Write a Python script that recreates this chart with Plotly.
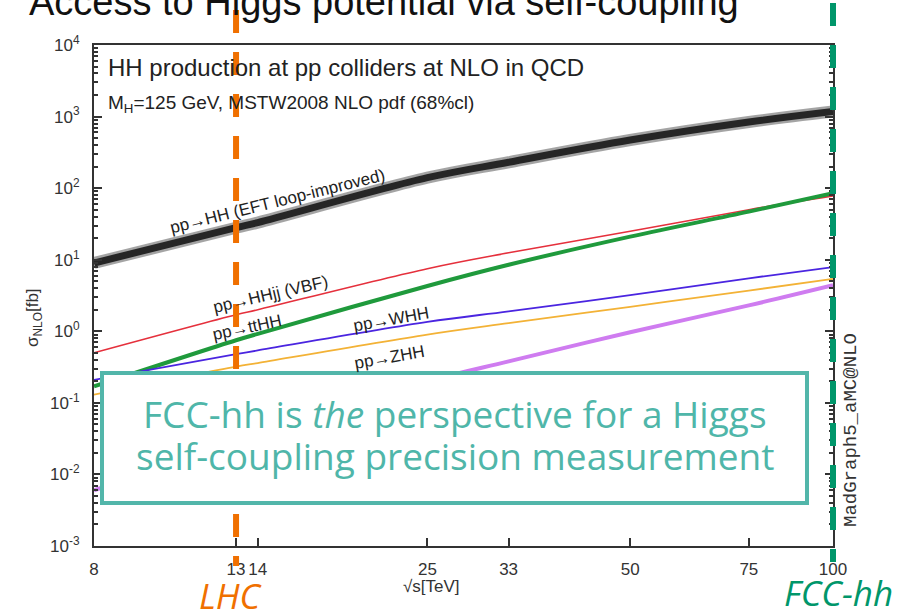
import math
import plotly.graph_objects as go

# Centre-of-mass energies (TeV) and NLO cross sections (fb)
energies = [8, 13, 14, 25, 33, 50, 75, 100]
xs_hh = [9.0, 28, 33, 140, 230, 470, 840, 1180]
xs_hhjj = [0.50, 1.7, 2.0, 7.5, 12.5, 25, 50, 78]
xs_tthh = [0.17, 0.75, 0.92, 4.3, 8.5, 21, 47, 85]
xs_whh = [0.21, 0.48, 0.54, 1.35, 1.9, 3.2, 5.5, 7.9]
xs_zhh = [0.13, 0.32, 0.36, 0.9, 1.3, 2.2, 3.7, 5.4]
xs_tjhh = [0.006, 0.030, 0.037, 0.20, 0.38, 0.97, 2.3, 4.4]

x_ticks = [8, 13, 14, 25, 33, 50, 75, 100]
y_exps = [-3, -2, -1, 0, 1, 2, 3, 4]
lhc_energy = 13
fcc_energy = 100

W, H = 900, 613
L, R, T, B = 94, 833, 45, 546


def fx(p):
    return (p - L) / (R - L)


def fy(p):
    return (B - p) / (B - T)


def efrac(e):
    return math.log10(e / energies[0]) / math.log10(energies[-1] / energies[0])


fig = go.Figure()

# HH band (thick grey) with dark core
fig.add_trace(go.Scatter(x=energies, y=xs_hh, mode="lines", line=dict(color="rgba(90,90,90,0.55)", width=12, shape="spline"), hoverinfo="skip"))
fig.add_trace(go.Scatter(x=energies, y=xs_hh, mode="lines", line=dict(color="#262626", width=7, shape="spline")))
fig.add_trace(go.Scatter(x=energies, y=xs_hhjj, mode="lines", line=dict(color="#e5303c", width=1.6, shape="spline")))
fig.add_trace(go.Scatter(x=energies, y=xs_tthh, mode="lines", line=dict(color="#1f9a3c", width=4, shape="spline")))
fig.add_trace(go.Scatter(x=energies, y=xs_whh, mode="lines", line=dict(color="#4a25e0", width=1.8, shape="spline")))
fig.add_trace(go.Scatter(x=energies, y=xs_zhh, mode="lines", line=dict(color="#f3b236", width=1.8, shape="spline")))
fig.add_trace(go.Scatter(x=energies, y=xs_tjhh, mode="lines", line=dict(color="#cf7cf0", width=4, shape="spline")))

axis_col = "#333333"
tick_font = dict(family="Liberation Sans, Arial", size=17, color="#333333")

fig.update_xaxes(
    type="log", range=[math.log10(energies[0]), math.log10(energies[-1])],
    tickvals=x_ticks, ticktext=[str(v) for v in x_ticks],
    ticks="inside", ticklen=8, tickwidth=1.5, tickcolor=axis_col,
    showline=True, linecolor=axis_col, linewidth=2, mirror=True,
    showgrid=False, zeroline=False, tickfont=tick_font, ticklabelstandoff=7,
)
fig.update_yaxes(
    type="log", range=[-3, 4],
    tickvals=[10 ** e for e in y_exps],
    ticktext=["10<sup>%d</sup>" % e for e in y_exps],
    ticks="inside", ticklen=8, tickwidth=1.5, tickcolor=axis_col,
    minor=dict(ticks="inside", ticklen=4, tickcolor=axis_col, dtick="D1", showgrid=False),
    showline=True, linecolor=axis_col, linewidth=2, mirror="ticks",
    showgrid=False, zeroline=False, tickfont=tick_font, ticklabelstandoff=9,
)

shapes = []
# LHC and FCC-hh energy markers
shapes.append(dict(type="line", xref="paper", yref="paper",
                   x0=efrac(lhc_energy), x1=efrac(lhc_energy), y0=fy(10), y1=fy(566),
                   line=dict(color="#f07000", width=6, dash="23px,19px"), layer="above"))
shapes.append(dict(type="line", xref="paper", yref="paper",
                   x0=efrac(fcc_energy), x1=efrac(fcc_energy), y0=fy(3), y1=fy(562),
                   line=dict(color="#00966a", width=6, dash="23px,19px"), layer="above"))
# message box
shapes.append(dict(type="rect", xref="paper", yref="paper",
                   x0=fx(102), x1=fx(807), y0=fy(503), y1=fy(373),
                   fillcolor="white", line=dict(color="#52b6aa", width=4), layer="above"))

lab_font = dict(family="Liberation Sans, Arial", size=17, color="#222222")
ann = []


def add(text, px, py, xanchor="center", yanchor="middle", **kw):
    d = dict(text=text, x=fx(px), y=fy(py), xref="paper", yref="paper", showarrow=False,
             xanchor=xanchor, yanchor=yanchor)
    d.update(kw)
    ann.append(d)


add("Access to Higgs potential via self-coupling", 27, 25, xanchor="left", yanchor="bottom",
    font=dict(family="Liberation Sans, Arial", size=38, color="#111111"))
add("HH production at pp colliders at NLO in QCD", 106, 67, xanchor="left",
    font=dict(family="Liberation Sans, Arial", size=24, color="#222222"))
add("M<sub>H</sub>=125 GeV, MSTW2008 NLO pdf (68%cl)", 106, 104, xanchor="left",
    font=dict(family="Liberation Sans, Arial", size=19, color="#222222"))
add("pp→HH (EFT loop-improved)", 277, 201, textangle=-14, font=lab_font)
add("pp→HHjj (VBF)", 270, 294, textangle=-13, font=lab_font)
add("pp→ttHH", 247, 327, textangle=-12, font=lab_font)
add("pp→WHH", 391, 319, textangle=-10, font=lab_font)
add("pp→ZHH", 389, 357, textangle=-10, font=lab_font)
add("σ<sub>NLO</sub>[fb]", 34, 318, textangle=-90, font=dict(family="Liberation Sans, Arial", size=17, color="#333333"))
add("√s[TeV]", 431, 586, font=dict(family="Liberation Sans, Arial", size=17, color="#333333"))
add("MadGraph5_aMC@NLO", 851, 430, textangle=-90, font=dict(family="Liberation Mono, Courier New", size=19, color="#333333"))
box_font = dict(family="Open Sans", size=37, color="#4fb6a9")
add("FCC-hh is <i>the</i> perspective for a Higgs", 455, 413, font=box_font)
add("self-coupling precision measurement", 455, 455, font=box_font)
add("<i>LHC</i>", 231, 595, font=dict(family="Open Sans", size=35, color="#f07000"))
add("<i>FCC-hh</i>", 838, 592, font=dict(family="Open Sans", size=35, color="#00966a"))

fig.update_layout(
    width=W, height=H, margin=dict(l=L, r=W - R, t=T, b=H - B),
    paper_bgcolor="white", plot_bgcolor="white", showlegend=False,
    shapes=shapes, annotations=ann,
)

fig.write_html("out.html")
